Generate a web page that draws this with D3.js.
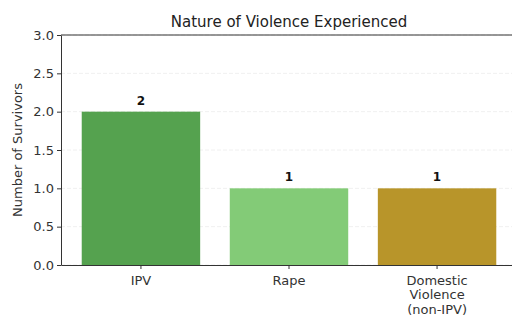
<!DOCTYPE html>
<html>
<head>
<meta charset="utf-8">
<script src="https://cdn.jsdelivr.net/npm/d3@7"></script>
<style>
  body { margin: 0; background: #fff; }
  svg { display: block; font-family: "DejaVu Sans", sans-serif; }
</style>
</head>
<body>
<div id="chart"></div>
<script>
const categories = ['IPV', 'Rape', 'Domestic Violence (non-IPV)'];
const categoryLines = [['IPV'], ['Rape'], ['Domestic', 'Violence', '(non-IPV)']];
const survivors = [2, 1, 1];
const barColors = ['#55a24f', '#83cb77', '#b8952a'];
const yTicks = [0, 0.5, 1, 1.5, 2, 2.5, 3];

const width = 512;
const height = 316;
const margin = { top: 35, right: -5, bottom: 51, left: 61 };

const svg = d3.select('#chart')
  .append('svg')
  .attr('width', width)
  .attr('height', height);

const x = d3.scaleBand()
  .domain(categories)
  .range([margin.left, width - margin.right])
  .paddingInner(0.2)
  .paddingOuter(0.14);

const y = d3.scaleLinear()
  .domain([0, 3])
  .range([height - margin.bottom, margin.top]);

// grid lines
svg.append('g')
  .selectAll('line')
  .data(yTicks)
  .enter()
  .append('line')
  .attr('x1', margin.left)
  .attr('x2', width - margin.right)
  .attr('y1', (d) => y(d))
  .attr('y2', (d) => y(d))
  .attr('stroke', '#f0f0f0')
  .attr('stroke-width', 1)
  .attr('stroke-dasharray', '4,2');

// bars
svg.append('g')
  .selectAll('rect')
  .data(survivors)
  .enter()
  .append('rect')
  .attr('x', (d, i) => x(categories[i]))
  .attr('y', (d) => y(d))
  .attr('width', x.bandwidth())
  .attr('height', (d) => y(0) - y(d))
  .attr('fill', (d, i) => barColors[i]);

// value labels
svg.append('g')
  .selectAll('text')
  .data(survivors)
  .enter()
  .append('text')
  .attr('x', (d, i) => x(categories[i]) + x.bandwidth() / 2)
  .attr('y', (d) => y(d) - 7)
  .attr('text-anchor', 'middle')
  .attr('font-size', '12px')
  .attr('font-weight', 'bold')
  .attr('fill', '#111')
  .text((d) => d);

// y axis
const yAxis = svg.append('g')
  .attr('transform', `translate(${margin.left},0)`)
  .call(d3.axisLeft(y).tickValues(yTicks).tickFormat(d3.format('.1f')).tickSize(4).tickSizeOuter(0));
yAxis.selectAll('text')
  .attr('font-size', '13px')
  .attr('fill', '#333')
  .attr('font-family', '"DejaVu Sans", sans-serif');
yAxis.selectAll('line').attr('stroke', '#333');
yAxis.select('.domain').attr('stroke', '#333');

// x axis
const xAxis = svg.append('g')
  .attr('transform', `translate(0,${y(0)})`)
  .call(d3.axisBottom(x).tickSize(4).tickSizeOuter(0).tickFormat(''));
xAxis.selectAll('line').attr('stroke', '#333');
xAxis.select('.domain').attr('stroke', '#333');

xAxis.selectAll('.tick')
  .append('text')
  .attr('fill', '#333')
  .attr('font-size', '13px')
  .attr('text-anchor', 'middle')
  .attr('font-family', '"DejaVu Sans", sans-serif')
  .each(function (d) {
    const lines = categoryLines[categories.indexOf(d)];
    d3.select(this).selectAll('tspan')
      .data(lines)
      .enter()
      .append('tspan')
      .attr('x', 0)
      .attr('y', (l, j) => 19.5 + j * 14.5)
      .text((l) => l);
  });

// top spine
svg.append('line')
  .attr('x1', margin.left)
  .attr('x2', width - margin.right)
  .attr('y1', y(3))
  .attr('y2', y(3))
  .attr('stroke', '#333');

// title
svg.append('text')
  .attr('x', (margin.left + width - margin.right) / 2)
  .attr('y', 27)
  .attr('text-anchor', 'middle')
  .attr('font-size', '15px')
  .attr('fill', '#222')
  .text('Nature of Violence Experienced');

// y label
svg.append('text')
  .attr('transform', `translate(22,${(y(0) + y(3)) / 2}) rotate(-90)`)
  .attr('text-anchor', 'middle')
  .attr('font-size', '13px')
  .attr('fill', '#333')
  .text('Number of Survivors');
</script>
</body>
</html>
